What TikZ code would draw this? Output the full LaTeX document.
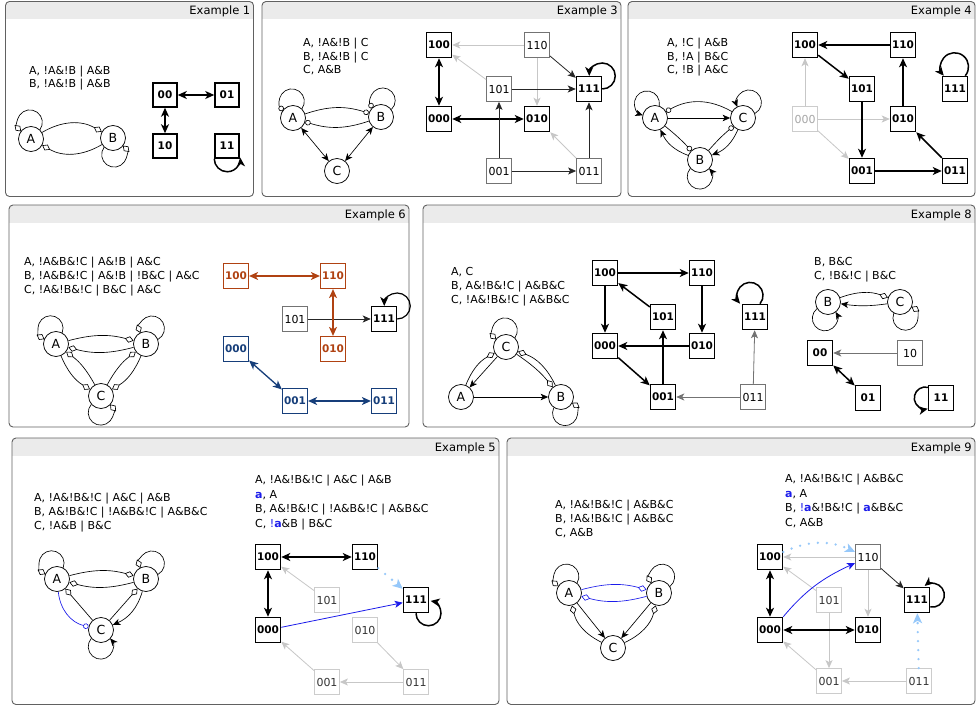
\documentclass[tikz,border=0pt]{standalone}
\usepackage{fontspec}
\setmainfont{DejaVu Sans}
\usetikzlibrary{arrows.meta}
\definecolor{orng}{RGB}{176,66,18}
\definecolor{navy}{RGB}{22,62,122}
\definecolor{bblue}{RGB}{28,28,235}
\definecolor{lblue}{RGB}{150,200,250}
\newcommand\ba{\textcolor{bblue}{\textbf{a}}}
\newcommand\bna{\textcolor{bblue}{!\textbf{a}}}
\newcommand\tline[4]{\node[txt] (#1) at (#2,-#3-4) {#4};}
\newcommand\cloop[3][]{%
  \pgfmathtruncatemacro\la{#3-49}\pgfmathsetmacro\sa{#3-131}\pgfmathsetmacro\ea{#3+131}%
  \draw[#1] (#2.\la) arc[start angle=\sa, end angle=\ea, radius=12.5pt];}
\newcommand\panel[6]{%
  \begin{scope}
    \clip[rounded corners=4pt] (#1,-#2) rectangle (#3,-#4);
    \fill[black!8] (#1,-#2) rectangle (#3,-#2-18);
  \end{scope}
  \draw[pframe] (#1,-#2) rectangle (#3,-#4);
  \node[ttl] (#6) at (#3-3,-#2-10) {#5};}
\begin{document}
\begin{tikzpicture}[x=1pt,y=1pt,
  pframe/.style={draw=black!62, line width=0.9pt, rounded corners=4pt},
  ttl/.style={font=\fontsize{11.5}{13}\selectfont, anchor=east, inner sep=0pt},
  txt/.style={font=\fontsize{11}{13}\selectfont, inner sep=0pt, anchor=base west},
  gn/.style={circle, draw, line width=0.75pt, minimum size=25pt, inner sep=0pt, fill=white, font=\fontsize{12.5}{12.5}\selectfont},
  sk/.style={draw, line width=1.5pt, minimum size=25pt, inner sep=0pt, fill=white, font=\bfseries\fontsize{10.5}{10.5}\selectfont},
  sn/.style={draw=black!55, line width=0.8pt, minimum size=25pt, inner sep=0pt, fill=white, font=\fontsize{11}{11}\selectfont},
  sf/.style={draw=black!20, line width=0.8pt, minimum size=25pt, inner sep=0pt, fill=white, text=black!80, font=\fontsize{11}{11}\selectfont},
  sff/.style={sf, text=black!35},
  so/.style={sk, draw=orng, text=orng, line width=1.2pt},
  sv/.style={sk, draw=navy, text=navy, line width=1.2pt},
  act/.style={line width=0.65pt, -{Stealth[length=7.5pt,width=6.5pt,inset=2pt]}},
  dact/.style={line width=0.65pt, {Stealth[length=7.5pt,width=6.5pt,inset=2pt]}-{Stealth[length=7.5pt,width=6.5pt,inset=2pt]}},
  dia/.style={line width=0.65pt, -{Diamond[open,length=9pt,width=6.5pt]}},
  inh/.style={line width=0.65pt, -{Circle[open,length=5.5pt]}},
  tk/.style={line width=1.5pt, -{Stealth[length=9pt,width=8pt,inset=2.5pt]}},
  tkd/.style={line width=1.5pt, {Stealth[length=9pt,width=8pt,inset=2.5pt]}-{Stealth[length=9pt,width=8pt,inset=2.5pt]}},
  tko/.style={tkd, line width=1.3pt, orng},
  tkv/.style={tkd, line width=1.3pt, navy},
  tn/.style={line width=0.8pt, black!85, -{Stealth[length=8pt,width=7pt,inset=2pt]}},
  tg/.style={tn, black!55},
  tf/.style={tn, black!22},
  bl/.style={tn, bblue},
  dotb/.style={lblue, line width=2.6pt, line cap=round, dash pattern=on 0pt off 9pt, -{Stealth[length=10pt,width=9pt,inset=2.5pt]}}
]
\fill[white] (0,0) rectangle (979,-708);
\useasboundingbox (0,0) rectangle (979,-708);

% ---------------- Example 1
\panel{5.5}{1.5}{253.5}{196.5}{Example 1}{h1}
\tline{t1a}{29}{70.7}{A, !A\&!B | A\&B}
\tline{t1b}{29}{83.3}{B, !A\&!B | A\&B}
\node[gn] (e1A) at (31,-139) {A};
\node[gn] (e1B) at (113,-138) {B};
\cloop[dia]{e1A}{95}
\cloop[dia]{e1B}{-85}
\draw[dia] (e1A) to[bend left=30] (e1B);
\draw[dia] (e1B) to[bend left=30] (e1A);
\node[sk, minimum size=24pt] (e1s00) at (165,-95) {00};
\node[sk, minimum size=24pt] (e1s01) at (227,-95) {01};
\node[sk, minimum size=24pt] (e1s10) at (165,-146) {10};
\node[sk, minimum size=24pt] (e1s11) at (227,-146) {11};
\draw[tkd] (e1s00) -- (e1s01);
\draw[tkd] (e1s00) -- (e1s10);
\draw[tk] (e1s11.south west) arc[start angle=180, end angle=365, radius=13pt];

% ---------------- Example 3
\panel{262}{1.5}{621}{196.5}{Example 3}{h3}
\tline{t3a}{303}{43}{A, !A\&!B | C}
\tline{t3b}{303}{56.5}{B, !A\&!B | C}
\tline{t3c}{303}{70}{C, A\&B}
\node[gn] (e3A) at (293,-118) {A};
\node[gn] (e3B) at (381,-117) {B};
\node[gn] (e3C) at (337,-171) {C};
\cloop[inh]{e3A}{95}
\cloop[inh]{e3B}{85}
\draw[inh] (e3A) to[bend left=18] (e3B);
\draw[inh] (e3B) to[bend left=18] (e3A);
\draw[dact] (e3A) -- (e3C);
\draw[dact] (e3B) -- (e3C);
\node[sk] (e3s100) at (439,-45) {100};
\node[sn] (e3s110) at (537,-45) {110};
\node[sn] (e3s101) at (499,-89) {101};
\node[sk] (e3s111) at (589,-89) {111};
\node[sk] (e3s000) at (439,-119) {000};
\node[sk] (e3s010) at (537,-119) {010};
\node[sn] (e3s001) at (499,-171) {001};
\node[sn] (e3s011) at (589,-171) {011};
\draw[tf] (e3s110) -- (e3s100);
\draw[tf] (e3s101) -- (e3s100);
\draw[tn] (e3s110) -- (e3s111);
\draw[tf] (e3s110) -- (e3s010);
\draw[tn] (e3s101) -- (e3s111);
\draw[tkd] (e3s100) -- (e3s000);
\draw[tkd] (e3s000) -- (e3s010);
\draw[tn] (e3s001) -- (e3s101);
\draw[tn] (e3s001) -- (e3s011);
\draw[tn] (e3s011) -- (e3s111);
\draw[tf] (e3s011) -- (e3s010);
\draw[tk] (e3s111.east) arc[start angle=-90, end angle=180, radius=13pt];

% ---------------- Example 4
\panel{628}{1.5}{975}{196.5}{Example 4}{h4}
\tline{t4a}{667}{43}{A, !C | A\&B}
\tline{t4b}{667}{56.5}{B, !A | B\&C}
\tline{t4c}{667}{70}{C, !B | A\&C}
\node[gn] (e4A) at (655,-118) {A};
\node[gn] (e4C) at (743,-118) {C};
\node[gn] (e4B) at (700,-160) {B};
\cloop[act]{e4A}{120}
\cloop[act]{e4C}{70}
\cloop[act]{e4B}{-90}
\draw[act] (e4A) -- (e4C);
\draw[inh] (e4C) to[bend right=30] (e4A);
\draw[act] (e4B) to[bend left=22] (e4A);
\draw[inh] (e4A) to[bend left=4] (e4B);
\draw[act] (e4C) to[bend left=22] (e4B);
\draw[inh] (e4B) to[bend left=4] (e4C);
\node[sk] (e4s100) at (805,-45) {100};
\node[sk] (e4s110) at (903,-45) {110};
\node[sk] (e4s101) at (862,-89) {101};
\node[sk] (e4s111) at (955,-89) {111};
\node[sff] (e4s000) at (805,-119) {000};
\node[sk] (e4s010) at (903,-119) {010};
\node[sk] (e4s001) at (862,-171) {001};
\node[sk] (e4s011) at (955,-171) {011};
\draw[tf] (e4s000) -- (e4s100);
\draw[tf] (e4s000) -- (e4s010);
\draw[tf] (e4s000) -- (e4s001);
\draw[tk] (e4s110) -- (e4s100);
\draw[tk] (e4s100) -- (e4s101);
\draw[tk] (e4s101) -- (e4s001);
\draw[tk] (e4s001) -- (e4s011);
\draw[tk] (e4s011) -- (e4s010);
\draw[tk] (e4s010) -- (e4s110);
\draw[tk] ([xshift=-3pt]e4s111.north east) arc[start angle=-40, end angle=220, radius=14pt];

% ---------------- Example 6
\panel{9}{205}{409}{427}{Example 6}{h6}
\tline{t6a}{24}{262}{A, !A\&B\&!C | A\&!B | A\&C}
\tline{t6b}{24}{276}{B, !A\&B\&!C | A\&!B | !B\&C | A\&C}
\tline{t6c}{24}{290}{C, !A\&!B\&!C | B\&C | A\&C}
\node[gn] (e6A) at (56,-344) {A};
\node[gn] (e6B) at (146,-344) {B};
\node[gn] (e6C) at (101,-396) {C};
\cloop[dia]{e6A}{110}
\cloop[dia]{e6B}{70}
\cloop[dia]{e6C}{-90}
\draw[dia] (e6A) to[bend left=15] (e6B);
\draw[dia] (e6B) to[bend left=15] (e6A);
\draw[dia] (e6A) to[bend right=18] (e6C);
\draw[dia] (e6C) to[bend right=12] (e6A);
\draw[dia] (e6B) to[bend left=18] (e6C);
\draw[dia] (e6C) to[bend left=12] (e6B);
\node[so] (e6s100) at (236,-276) {100};
\node[so] (e6s110) at (333,-276) {110};
\node[sn] (e6s101) at (295,-319) {101};
\node[sk] (e6s111) at (384,-319) {111};
\node[so] (e6s010) at (333,-349) {010};
\node[sv] (e6s000) at (236,-349) {000};
\node[sv] (e6s001) at (295,-401) {001};
\node[sv] (e6s011) at (384,-401) {011};
\draw[tn] (e6s101) -- (e6s111);
\draw[tko] (e6s100) -- (e6s110);
\draw[tko] (e6s110) -- (e6s010);
\draw[tkv] (e6s000) -- (e6s001);
\draw[tkv] (e6s001) -- (e6s011);
\draw[tk, line width=1.2pt] (e6s111.east) arc[start angle=-90, end angle=180, radius=13pt];

% ---------------- Example 8
\panel{423}{205}{975}{427}{Example 8}{h8}
\tline{t8a}{451}{272}{A, C}
\tline{t8b}{451}{286}{B, A\&!B\&!C | A\&B\&C}
\tline{t8c}{451}{300}{C, !A\&!B\&!C | A\&B\&C}
\node[gn] (e8C) at (506,-347) {C};
\node[gn] (e8A) at (461,-397) {A};
\node[gn] (e8B) at (561,-397) {B};
\cloop[dia]{e8C}{95}
\cloop[dia]{e8B}{-75}
\draw[act] (e8C) -- (e8A);
\draw[act] (e8A) -- (e8B);
\draw[dia] (e8A) to[bend left=20] (e8C);
\draw[dia] (e8C) to[bend left=8] (e8B);
\draw[dia] (e8B) to[bend right=22] (e8C);
\node[sk] (e8s100) at (605,-273) {100};
\node[sk] (e8s110) at (702,-273) {110};
\node[sk] (e8s101) at (663,-317) {101};
\node[sk] (e8s111) at (755,-317) {111};
\node[sk] (e8s000) at (605,-346) {000};
\node[sk] (e8s010) at (702,-346) {010};
\node[sk] (e8s001) at (663,-397) {001};
\node[sn] (e8s011) at (753,-397) {011};
\draw[tk] (e8s100) -- (e8s110);
\draw[tk] (e8s100) -- (e8s000);
\draw[tk] (e8s101) -- (e8s100);
\draw[tk] (e8s110) -- (e8s010);
\draw[tk] (e8s010) -- (e8s000);
\draw[tk] (e8s000) -- (e8s001);
\draw[tk] (e8s001) -- (e8s101);
\draw[tg] (e8s011) -- (e8s001);
\draw[tg] (e8s011) -- (e8s111);
\draw[tk] ([xshift=5pt]e8s111.north) arc[start angle=-40, end angle=220, radius=13pt];
\tline{t8d}{814}{262}{B, B\&C}
\tline{t8e}{814}{275.5}{C, !B\&!C | B\&C}
\node[gn] (e8b) at (828,-302) {B};
\node[gn] (e8c) at (900,-302) {C};
\cloop[act]{e8b}{-100}
\cloop[dia]{e8c}{-70}
\draw[dia] (e8b) to[bend left=20] (e8c);
\draw[act] (e8c) to[bend left=8] (e8b);
\node[sk] (e8t00) at (820,-353) {00};
\node[sn] (e8t10) at (910,-353) {10};
\node[sk] (e8t01) at (868,-398) {01};
\node[sk] (e8t11) at (941,-398) {11};
\draw[tg] (e8t10) -- (e8t00);
\draw[tkd] (e8t00) -- (e8t01);
\draw[tk] ([yshift=10.7pt]e8t11.west) arc[start angle=77, end angle=283, radius=11pt];

% ---------------- Example 5
\panel{12}{438}{499}{704.5}{Example 5}{h5}
\tline{t5a}{34}{497}{A, !A\&!B\&!C | A\&C | A\&B}
\tline{t5b}{34}{511}{B, A\&!B\&!C | !A\&B\&!C | A\&B\&C}
\tline{t5c}{34}{525}{C, !A\&B | B\&C}
\node[gn] (e5A) at (57,-579) {A};
\node[gn] (e5B) at (146,-579) {B};
\node[gn] (e5C) at (101,-630) {C};
\cloop[dia]{e5A}{110}
\cloop[dia]{e5B}{70}
\cloop[act]{e5C}{-90}
\draw[dia] (e5A) to[bend left=15] (e5B);
\draw[dia] (e5B) to[bend left=15] (e5A);
\draw[inh, bblue] (e5A) to[bend right=35] (e5C);
\draw[dia] (e5C) -- (e5A);
\draw[dia] (e5C) -- (e5B);
\draw[act] (e5B) to[bend left=25] (e5C);
\tline{t5d}{255}{479}{A, !A\&!B\&!C | A\&C | A\&B}
\tline{t5e}{255}{494}{\ba, A}
\tline{t5f}{255}{508}{B, A\&!B\&!C | !A\&B\&!C | A\&B\&C}
\tline{t5g}{255}{523}{C, \bna\&B | B\&C}
\node[sk] (e5s100) at (268,-557) {100};
\node[sk] (e5s110) at (365,-557) {110};
\node[sf] (e5s101) at (327,-600) {101};
\node[sk] (e5s111) at (416,-600) {111};
\node[sk] (e5s000) at (268,-630) {000};
\node[sf] (e5s010) at (365,-630) {010};
\node[sf] (e5s001) at (327,-682) {001};
\node[sf] (e5s011) at (416,-682) {011};
\draw[tkd] (e5s100) -- (e5s110);
\draw[tkd] (e5s100) -- (e5s000);
\draw[tf] (e5s101) -- (e5s100);
\draw[bl] (e5s000) -- (e5s111);
\draw[dotb] (e5s110) -- (e5s111);
\draw[tf] (e5s010) -- (e5s011);
\draw[tf] (e5s011) -- (e5s001);
\draw[tf] (e5s001) -- (e5s000);
\draw[tk] (e5s111.south) arc[start angle=180, end angle=440, radius=12.5pt];

% ---------------- Example 9
\panel{507}{438}{975}{704.5}{Example 9}{h9}
\tline{t9a}{555}{504}{A, !A\&!B\&!C | A\&B\&C}
\tline{t9b}{555}{518}{B, !A\&!B\&!C | A\&B\&C}
\tline{t9c}{555}{532}{C, A\&B}
\node[gn] (e9A) at (569,-593) {A};
\node[gn] (e9B) at (659,-593) {B};
\node[gn] (e9C) at (613,-648) {C};
\cloop[dia]{e9A}{100}
\cloop[dia]{e9B}{80}
\draw[dia, bblue] (e9A) to[bend left=15] (e9B);
\draw[dia, bblue] (e9B) to[bend left=15] (e9A);
\draw[act] (e9A) -- (e9C);
\draw[act] (e9B) -- (e9C);
\draw[dia] (e9C) to[bend left=25] (e9A);
\draw[dia] (e9C) to[bend right=25] (e9B);
\tline{t9d}{785}{478}{A, !A\&!B\&!C | A\&B\&C}
\tline{t9e}{785}{493}{\ba, A}
\tline{t9f}{785}{507}{B, \bna\&!B\&!C | \ba\&B\&C}
\tline{t9g}{785}{522}{C, A\&B}
\node[sk] (e9s100) at (770,-557) {100};
\node[sn] (e9s110) at (868,-557) {110};
\node[sf] (e9s101) at (829,-600) {101};
\node[sk] (e9s111) at (917,-600) {111};
\node[sk] (e9s000) at (770,-630) {000};
\node[sk] (e9s010) at (868,-630) {010};
\node[sf] (e9s001) at (829,-681) {001};
\node[sf] (e9s011) at (919,-681) {011};
\draw[tf] (e9s110) -- (e9s100);
\draw[tf] (e9s101) -- (e9s100);
\draw[tf] (e9s110) -- (e9s010);
\draw[tf] (e9s101) -- (e9s001);
\draw[tf] (e9s001) -- (e9s000);
\draw[tf] (e9s011) -- (e9s001);
\draw[tkd] (e9s100) -- (e9s000);
\draw[tkd] (e9s000) -- (e9s010);
\draw[bl] (e9s000.north east) to[out=50, in=205] ([yshift=-6pt]e9s110.west);
\draw[dotb] ([yshift=5pt]e9s100.east) to[bend left=25] ([yshift=5pt]e9s110.west);
\draw[tn] (e9s110) -- (e9s111);
\draw[dotb] (e9s011) -- (e9s111);
\draw[tk] ([yshift=-7pt]e9s111.east) arc[start angle=-100, end angle=130, radius=12pt];
\end{tikzpicture}
\end{document}
